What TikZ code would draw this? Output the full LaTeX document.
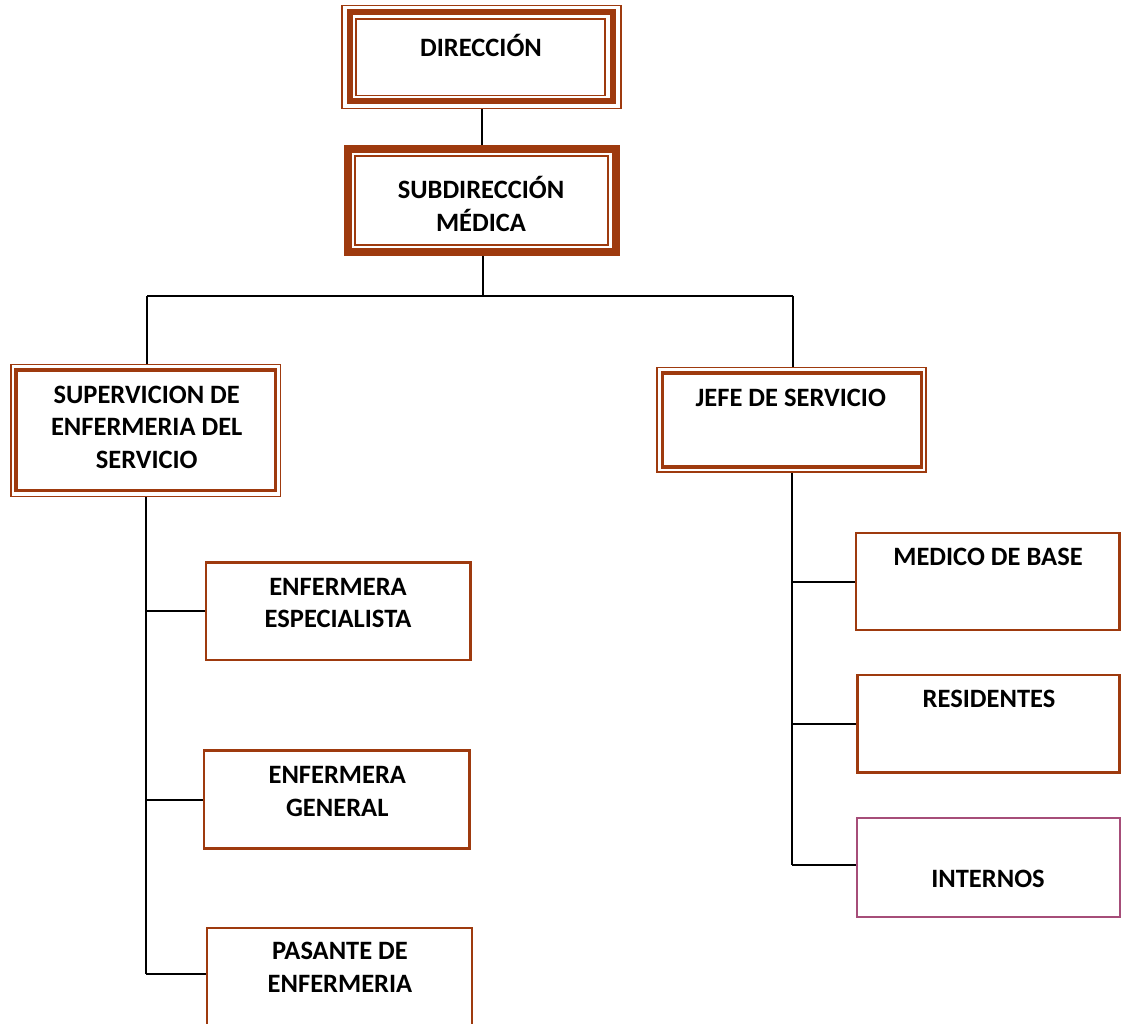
\documentclass[tikz,border=0pt]{standalone}
\usepackage{fontspec}
\setmainfont{Carlito}
\usetikzlibrary{backgrounds}
\definecolor{boxbrown}{RGB}{158,58,14}
\definecolor{boxpink}{RGB}{166,77,121}
\begin{document}
\begin{tikzpicture}[x=1pt,y=-1pt,
  frame/.style={draw=boxbrown,rectangle,outer sep=0pt,inner sep=0pt},
  thinframe/.style={frame,line width=1.5pt},
  plainbox/.style={frame,line width=2.5pt},
  label/.style={font=\fontsize{26.5}{32.5}\selectfont\bfseries,align=center,inner sep=0pt},
  link/.style={draw=black,line width=2pt}]
\useasboundingbox (0,0) rectangle (1121,1024);
\clip (0,0) rectangle (1121,1024);

% --- top: direction (triple border) ---
\node[thinframe,minimum width=279,minimum height=103] (dir) at (481.5,57) {};
\draw[boxbrown,line width=6pt] ([shift={(7.5,6.5)}]dir.north west) rectangle ([shift={(-8,-7.5)}]dir.south east);
\draw[boxbrown,line width=1.5pt] ([shift={(14,13.5)}]dir.north west) rectangle ([shift={(-16,-13)}]dir.south east);
\node[label,anchor=base] (tdir) at (481,56.2) {DIRECCIÓN};

% --- sub-direction (thick + thin border) ---
\node[frame,line width=8pt,minimum width=268,minimum height=103.5] (sub) at (481.5,200.75) {};
\draw[boxbrown,line width=2pt] ([shift={(7.8,7)}]sub.north west) rectangle ([shift={(-7.5,-7.2)}]sub.south east);
\node[label] (tsub) at (481,204) {SUBDIRECCIÓN\\MÉDICA};

% --- nursing supervision (double border) ---
\node[thinframe,minimum width=269.7,minimum height=132.4] (sup) at (145.85,430.5) {};
\draw[boxbrown,line width=3.5pt] ([shift={(5,5.5)}]sup.north west) rectangle ([shift={(-5,-6)}]sup.south east);
\node[label] (tsup) at (146.7,427) {SUPERVICION DE\\ENFERMERIA DEL\\SERVICIO};

% --- head of service (double border) ---
\node[thinframe,minimum width=269,minimum height=104.5] (jefe) at (791.5,419.75) {};
\draw[boxbrown,line width=3.5pt] ([shift={(5.3,5.5)}]jefe.north west) rectangle ([shift={(-4.3,-5)}]jefe.south east);
\node[label,anchor=base] (tjefe) at (790.8,406.5) {JEFE DE SERVICIO};

% --- nursing staff ---
\node[plainbox,minimum width=264.7,minimum height=97.3] (esp) at (338.35,611.35) {};
\node[label] (tesp) at (338,603) {ENFERMERA\\ESPECIALISTA};
\node[plainbox,minimum width=265.3,minimum height=97.6] (gen) at (336.65,799.5) {};
\node[label] (tgen) at (337.3,791.5) {ENFERMERA\\GENERAL};
\node[plainbox,minimum width=265,minimum height=98] (pas) at (339.5,977) {};
\node[label] (tpas) at (340,967.4) {PASANTE DE\\ENFERMERIA};

% --- medical staff ---
\node[plainbox,minimum width=263.5,minimum height=97] (med) at (987.75,581.5) {};
\node[label,anchor=base] (tmed) at (988,565.2) {MEDICO DE BASE};
\node[plainbox,minimum width=262.2,minimum height=97.7] (res) at (988.4,723.85) {};
\node[label,anchor=base] (tres) at (989,707.2) {RESIDENTES};
\node[frame,draw=boxpink,line width=2pt,minimum width=262.5,minimum height=99] (int) at (988.25,867.5) {};
\node[label,anchor=base] (tint) at (988,887.5) {INTERNOS};

% --- connectors ---
\begin{scope}[on background layer]
  \coordinate (busL) at (147.3,295.7);
  \coordinate (busR) at (792.7,295.7);
  \draw[link] (dir.south) -- (sub.north);
  \draw[link] ([xshift=1.8]sub.south) -- ([xshift=1.8]sub.south |- busL);
  \draw[link] (busL) -- (busR);
  \draw[link] (busL) -- (busL |- sup.north);
  \draw[link] (busR) -- (busR |- jefe.north);
  % nursing branch
  \draw[link] (sup.south) -- ([yshift=3]sup.south |- pas.west);
  \draw[link] (esp.west) -- (esp.west -| sup.south);
  \draw[link] (gen.west) -- (gen.west -| sup.south);
  \draw[link] ([yshift=3]pas.west) -- ([yshift=3]pas.west -| sup.south);
  % medical branch
  \draw[link] (jefe.south) -- ([yshift=2.5]jefe.south |- int.west);
  \draw[link] (med.west) -- (med.west -| jefe.south);
  \draw[link] (res.west) -- (res.west -| jefe.south);
  \draw[link] ([yshift=2.5]int.west) -- ([yshift=2.5]int.west -| jefe.south);
\end{scope}
\end{tikzpicture}
\end{document}
